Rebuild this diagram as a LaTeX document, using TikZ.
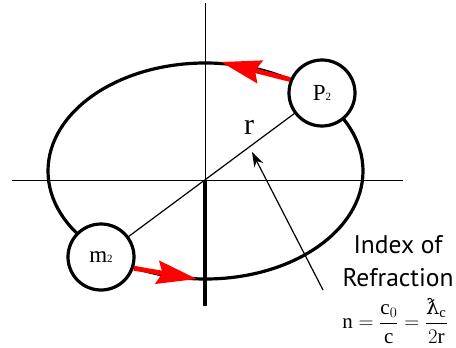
\documentclass[tikz,border=0pt]{standalone}
\usepackage{fontspec}
\setmainfont{Liberation Serif}
\newfontfamily\labelfont{PT Sans}
\newfontfamily\barfont{DejaVu Serif}
\usetikzlibrary{arrows.meta}
\newcommand\smallsub[1]{{\fontsize{11}{11}\selectfont #1}}
\begin{document}
\begin{tikzpicture}
[x=1pt, y=-1pt, font=\fontsize{23}{26}\selectfont]
\tikzstyle{body}=[circle, draw, fill=white, line width=3.2pt, minimum size=66pt, inner sep=0pt]
\tikzstyle{orbit}=[line width=3.2pt]
\tikzstyle{axis}=[line width=1pt]
\tikzstyle{motion}=[draw=red, fill=red, line width=4.8pt, -{Stealth[length=40pt, width=23pt, inset=5pt]}]
\useasboundingbox (0,0) rectangle (456,348);
\coordinate (O)    at (205,180);
\coordinate (Top)  at (205,3);
\coordinate (Bot)  at (205,306);
\coordinate (L)    at (12,180);
\coordinate (R)    at (403,180);
\draw[axis] (L) -- (R);
\draw[axis] (Top) -- (O);
\draw[line width=3.2pt] (O) -- (Bot);
\draw[orbit] (205.5,171) ellipse [x radius=157.5, y radius=108];
\node[body] (P2) at (322,93)  {P\smallsub{2}};
\node[body] (m2) at (101,257) {m\smallsub{2}};
\draw[line width=1.2pt] (m2) -- (P2);
\coordinate (P2tip) at (221,62);
\coordinate (m2tip) at (197,279);
\draw[motion] (P2.157) -- (P2tip);
\draw[motion] (m2.-19) -- (m2tip);
\node[font=\fontsize{30}{32}\selectfont] (rlab) at (249,127) {r};
\coordinate (idxTail) at (323,290);
\coordinate (idxTip)  at (252,152);
\draw[line width=1.2pt, -{Stealth[length=15pt, width=10pt]}] (idxTail) -- (idxTip);
\node[font=\labelfont\fontsize{25.5}{33}\selectfont, align=center] (idx) at (398,261) {Index of\\Refraction};
\node[font=\fontsize{21}{24}\selectfont] (nform) at (395,321)
  {$\displaystyle \mathrm{n}=\frac{\mathrm{c}_0}{\mathrm{c}}=\frac{\mbox{\barfont ƛ}_{\mathrm{c}}}{2\mathrm{r}}$};
\end{tikzpicture}
\end{document}
